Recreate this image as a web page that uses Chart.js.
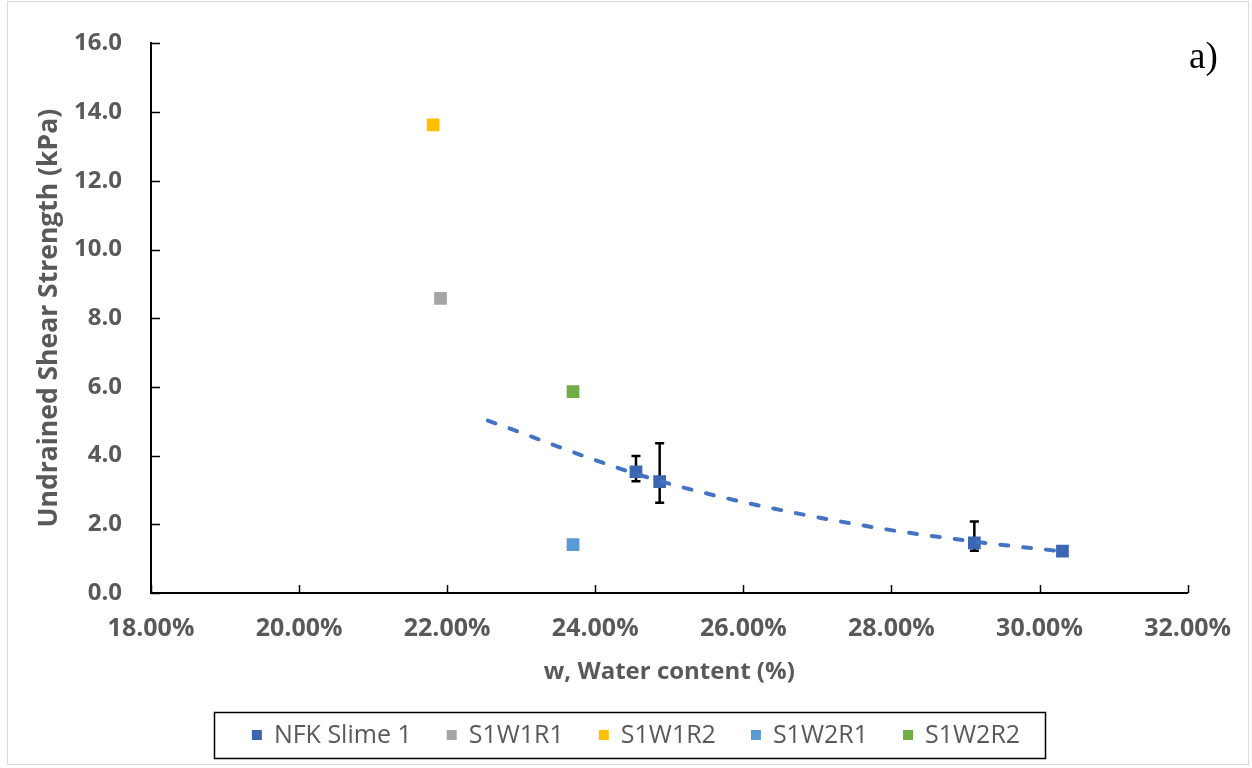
<!DOCTYPE html>
<html>
<head>
<meta charset="utf-8">
<title>Undrained shear strength vs water content</title>
<script src="https://cdn.jsdelivr.net/npm/chart.js@4.4.1/dist/chart.umd.min.js"></script>
<style>
  html, body { margin: 0; padding: 0; background: #fff; }
  #wrap { position: relative; width: 1252px; height: 768px; }
</style>
</head>
<body>
<div id="wrap"><canvas id="shearChart"></canvas></div>
<script>
// NFK Slime 1 (vane tests with error bars)
const nfkWater = [24.55, 24.87, 29.12, 30.31];
const nfkStrength = [3.53, 3.24, 1.46, 1.22];
const nfkErrPlus = [0.46, 1.12, 0.62, 0];
const nfkErrMinus = [0.28, 0.61, 0.23, 0];

// single samples
const sampleNames = ['S1W1R1', 'S1W1R2', 'S1W2R1', 'S1W2R2'];
const sampleWater = [21.91, 21.81, 23.70, 23.70];
const sampleStrength = [8.58, 13.63, 1.41, 5.86];
const sampleColors = ['#A5A5A5', '#FFC000', '#5B9BD5', '#70AD47'];

// trend line
const trendWater = [22.55, 24.55, 25.77, 27.74, 29.11, 30.31];
const trendStrength = [5.02, 3.47, 2.76, 1.92, 1.50, 1.21];

// axis ticks
const xTicks = [18, 20, 22, 24, 26, 28, 30, 32];
const yTicks = [0, 2, 4, 6, 8, 10, 12, 14, 16];

const greyText = '#595959';
const nfkColor = '#3C66B4';

const toPoints = (xs, ys) => xs.map((x, i) => ({ x: x, y: ys[i] }));

const datasets = [{
    label: 'NFK Slime 1',
    data: toPoints(nfkWater, nfkStrength),
    backgroundColor: nfkColor,
    borderColor: nfkColor,
    pointStyle: 'rect',
    pointRadius: 9,
    borderWidth: 0,
    order: 1
}];
sampleNames.forEach((name, i) => {
    datasets.push({
        label: name,
        data: [{ x: sampleWater[i], y: sampleStrength[i] }],
        backgroundColor: sampleColors[i],
        borderColor: sampleColors[i],
        pointStyle: 'rect',
        pointRadius: 9,
        borderWidth: 0,
        order: 1
    });
});
datasets.push({
    label: 'trend',
    type: 'line',
    data: toPoints(trendWater, trendStrength),
    borderColor: '#4472C4',
    borderWidth: 4,
    borderDash: [8, 15],
    borderCapStyle: 'round',
    cubicInterpolationMode: 'monotone',
    pointRadius: 0,
    fill: false,
    order: 0
});

// error bars under the markers
const errorBars = {
    id: 'errorBars',
    beforeDatasetsDraw(chart) {
        const { ctx, scales: { x, y } } = chart;
        ctx.save();
        ctx.strokeStyle = '#000';
        ctx.lineWidth = 2.5;
        nfkWater.forEach((w, i) => {
            if (!nfkErrPlus[i] && !nfkErrMinus[i]) return;
            const px = x.getPixelForValue(w);
            const top = y.getPixelForValue(nfkStrength[i] + nfkErrPlus[i]);
            const bot = y.getPixelForValue(nfkStrength[i] - nfkErrMinus[i]);
            ctx.beginPath();
            ctx.moveTo(px, top); ctx.lineTo(px, bot);
            ctx.moveTo(px - 4.5, top); ctx.lineTo(px + 4.5, top);
            ctx.moveTo(px - 4.5, bot); ctx.lineTo(px + 4.5, bot);
            ctx.stroke();
        });
        ctx.restore();
    }
};

// inward tick marks, boxed legend, panel label, outer frame
const decorations = {
    id: 'decorations',
    afterDraw(chart) {
        const { ctx, chartArea: a, scales: { x, y } } = chart;
        ctx.save();
        ctx.strokeStyle = '#000';
        ctx.lineWidth = 1.5;
        ctx.beginPath();
        yTicks.forEach(v => {
            const py = Math.round(y.getPixelForValue(v)) + 0.5;
            ctx.moveTo(a.left, py); ctx.lineTo(a.left + 9, py);
        });
        xTicks.forEach(v => {
            const px = Math.round(x.getPixelForValue(v)) + 0.5;
            ctx.moveTo(px, a.bottom); ctx.lineTo(px, a.bottom - 8);
        });
        ctx.stroke();

        // legend
        const items = datasets.filter(d => d.label !== 'trend');
        ctx.font = "25px 'Open Sans', sans-serif";
        ctx.textBaseline = 'middle';
        ctx.textAlign = 'left';
        const widths = items.map(d => ctx.measureText(d.label).width);
        const gap = 35, boxGap = 22;
        const total = widths.reduce((s, w) => s + boxGap + w, 0) + gap * (items.length - 1);
        let lx = 636 - total / 2;
        const cy = 735;
        const startX = lx;
        items.forEach((d, i) => {
            ctx.fillStyle = d.backgroundColor;
            ctx.fillRect(lx, cy - 5, 10, 10);
            ctx.fillStyle = greyText;
            ctx.fillText(d.label, lx + boxGap, cy + 1);
            lx += boxGap + widths[i] + gap;
        });
        const endX = lx - gap;
        ctx.strokeStyle = '#000';
        ctx.lineWidth = 1.5;
        ctx.strokeRect(Math.round(startX - 38) + 0.5, 712.5, Math.round(endX + 25 - startX + 38), 46);

        // panel label
        ctx.fillStyle = '#000';
        ctx.font = "37px 'Liberation Serif', serif";
        ctx.textBaseline = 'alphabetic';
        ctx.fillText('a)', 1189, 68);

        // chart frame
        ctx.strokeStyle = '#D9D9D9';
        ctx.lineWidth = 1;
        ctx.strokeRect(7.5, 1.5, 1241, 763);
        ctx.restore();
    }
};

Chart.defaults.font.family = "'Open Sans', sans-serif";

new Chart(document.getElementById('shearChart'), {
    type: 'scatter',
    data: { datasets: datasets },
    options: {
        responsive: true,
        maintainAspectRatio: false,
        animation: false,
        layout: { padding: { top: 43, right: 63, bottom: 56, left: 0 } },
        plugins: {
            legend: { display: false },
            tooltip: { enabled: false }
        },
        scales: {
            x: {
                type: 'linear',
                min: xTicks[0],
                max: xTicks[xTicks.length - 1],
                afterBuildTicks: s => { s.ticks = xTicks.map(v => ({ value: v })); },
                afterFit: s => { s.height = 119; },
                grid: { display: false, drawTicks: false },
                border: { display: true, color: '#000', width: 2 },
                ticks: {
                    padding: 21,
                    color: greyText,
                    font: { size: 25, weight: 'bold' },
                    callback: v => v.toFixed(2) + '%'
                },
                title: {
                    display: true,
                    text: 'w, Water content (%)',
                    color: greyText,
                    font: { size: 24, weight: 'bold' },
                    padding: { top: 0, bottom: 25 }
                }
            },
            y: {
                type: 'linear',
                min: yTicks[0],
                max: yTicks[yTicks.length - 1],
                afterBuildTicks: s => { s.ticks = yTicks.map(v => ({ value: v })); },
                afterFit: s => { s.width = 151; },
                grid: { display: false, drawTicks: false },
                border: { display: true, color: '#000', width: 2 },
                ticks: {
                    padding: 29,
                    color: greyText,
                    font: { size: 24, weight: 'bold' },
                    callback: v => v.toFixed(1)
                },
                title: {
                    display: true,
                    text: 'Undrained Shear Strength (kPa)',
                    color: greyText,
                    font: { size: 26.5, weight: 'bold' },
                    padding: { top: 34, bottom: 0 }
                }
            }
        }
    },
    plugins: [errorBars, decorations]
});
</script>
</body>
</html>
